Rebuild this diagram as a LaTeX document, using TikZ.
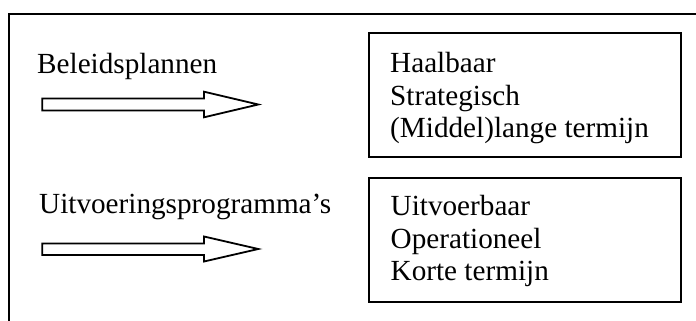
\documentclass[tikz,border=0pt]{standalone}
\usepackage{fontspec}
\setmainfont{Liberation Serif}
\begin{document}
\begin{tikzpicture}[x=1pt,y=-1pt,
  txt/.style={anchor=base west,inner sep=0pt,font=\fontsize{29.2}{32.5}\selectfont},
  frame/.style={draw=black,line width=2pt},
  blockarrow/.style={draw=black,line width=1.8pt,fill=white,line join=miter}]
\useasboundingbox (0,0) rectangle (696,321);
% outer frame (only top and left edges visible)
\draw[frame] (8.5,330) -- (8.5,14) -- (710,14);
% boxes
\draw[frame] (369,33) rectangle (681,157);
\draw[frame] (369,178) rectangle (681,302);
% left labels
\node[txt] (bp) at (37,74) {Beleidsplannen};
\node[txt] (up) at (39,213) {Uitvoeringsprogramma's};
% block arrows
\draw[blockarrow] (42.3,98.5) -- (204,98.5) -- (204,91.7) -- (258.3,104.5) -- (204,117.3) -- (204,110.5) -- (42.3,110.5) -- cycle;
\draw[blockarrow] (42.3,243.5) -- (204,243.5) -- (204,236.5) -- (258.3,249) -- (204,261.5) -- (204,255) -- (42.3,255) -- cycle;
% box 1 text
\node[txt] (h1) at (390,72.3) {Haalbaar};
\node[txt] (h2) at (390,105) {Strategisch};
\node[txt] (h3) at (390,137) {(Middel)lange termijn};
% box 2 text
\node[txt] (u1) at (390.5,215) {Uitvoerbaar};
\node[txt] (u2) at (390.5,248) {Operationeel};
\node[txt] (u3) at (390.5,280.5) {Korte termijn};
\end{tikzpicture}
\end{document}
